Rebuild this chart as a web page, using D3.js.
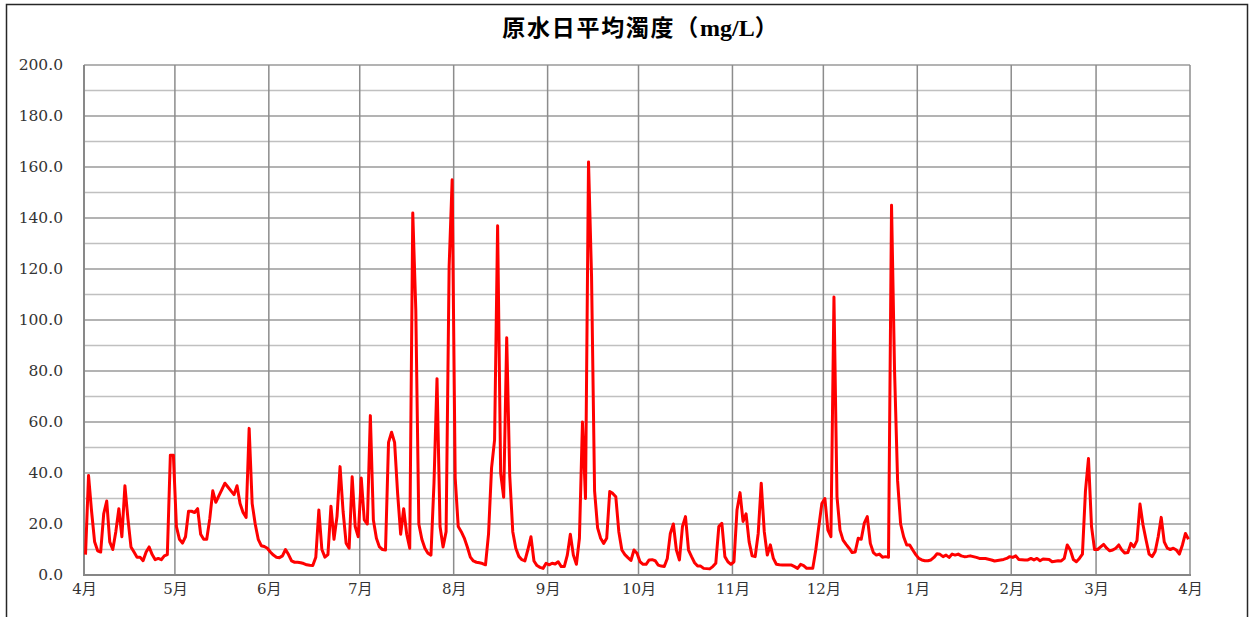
<!DOCTYPE html>
<html>
<head>
<meta charset="utf-8">
<script src="https://cdn.jsdelivr.net/npm/d3@7/dist/d3.min.js"></script>
<style>
  html, body { margin: 0; padding: 0; background: #fff; }
  svg { display: block; }
</style>
</head>
<body>
<svg id="chart" width="1254" height="617"></svg>
<script>
// ---- data ----
const titleMain = "原水日平均濁度";
const titleUnit = "mg/L";
const monthLabels = ["4月","5月","6月","7月","8月","9月","10月","11月","12月","1月","2月","3月","4月"];
const yTicks = [0, 20, 40, 60, 80, 100, 120, 140, 160, 180, 200];
const yMinorTicks = [10, 30, 50, 70, 90, 110, 130, 150, 170, 190];
const startYear = 2022; // fiscal year starting April 1

const aprVals = [8,39,25,13,9.5,9,24,29,13,10,17,26,15,35,22,11,9,7,7,5.6,9,11,8,6,6.5,6,7.5,8,47,47];
const mayVals = [19,14,12.5,15,25,25,24.5,26,16,14,14,22,33,28.5,31,33.5,36,34.5,33,31.5,35,28,24.5,22.6,57.5,28,20,14,11.5,11.2,10.5];
const junVals = [9,7.8,7,6.8,7.5,10,8,5.5,5,5,4.8,4.5,4,3.8,3.7,7,25.5,10,7,8,27,14,23,42.5,25,12.5,10.5,38.5,19,15];
const julVals = [38,21.6,20,62.5,21.6,14.4,11,10,9.8,52,56,52,32,16,26,16,10.5,142,104,20,14,10.5,8.5,7.8,36,77,19,11,17,121,155];
const augVals = [38,19,17,14.5,11,7,5.5,5,4.8,4.5,4,16,42,53,137,40,30.5,93,39,17,10.5,7.3,6,5.5,10,15,5.5,3.7,3,2.6,4.6];
const sepVals = [4,4.6,4.3,5.2,3.3,3.3,7.8,16,7.8,4.2,14.4,60,30,162,117,33,18.5,14.4,12.4,14.4,32.7,32,30.7,17,9.8,8,6.8,5.7,9.8,8.5];
const octVals = [5.2,4.2,4.2,5.9,6,5.6,3.9,3.5,3.3,6.5,16.3,20,9.8,5.9,19,22.9,9.8,7.2,4.8,3.5,3.5,2.6,2.5,2.4,3.3,4.6,19,20.3,7.2,5.2,4.2];
const novVals = [5.2,25.5,32.3,21,24,13,7.5,7.2,16.3,36,17,7.8,11.8,6.5,4.2,4,3.9,3.9,3.9,3.9,3.3,2.6,4.2,3.7,2.6,2.6,2.6,9.8,19,28];
const decVals = [30,17.6,15,109,30.7,17.6,13.7,12,10.5,8.8,9,14.4,14,20.3,22.9,12.4,8.8,7.8,8.2,7,7.2,7,145,80,37,20,15,11.8,11.8,9.8,8];
const janVals = [6.5,5.9,5.6,5.6,5.9,6.9,8.3,8.1,7.2,7.8,6.9,8.2,7.8,8.2,7.5,7.2,7.3,7.5,7.2,6.9,6.5,6.5,6.5,6.2,5.9,5.5,5.7,5.9,6.1,6.5,7.2];
const febVals = [6.9,7.5,6.1,6,5.9,5.9,6.5,5.9,6.5,5.6,6.3,6.2,6.1,5.2,5.4,5.6,5.5,6.5,11.8,9.8,6.1,5.2,6.5,8.2,33,45.7,19,10];
const marVals = [10,11,12,10.5,9.5,9.8,10.5,11.8,9.8,8.6,8.8,12.4,11,13.5,27.8,19.6,13.7,8.2,7.2,9.2,15,22.6,13,10.5,10,10.5,9.8,8.2,11.8,16.3,14];

const monthly = [aprVals, mayVals, junVals, julVals, augVals, sepVals, octVals, novVals, decVals, janVals, febVals, marVals];

// ---- build daily series (each day's mean plotted at mid-day) ----
const startDate = new Date(Date.UTC(startYear, 3, 1));
const endDate = new Date(Date.UTC(startYear + 1, 3, 1));
const series = [];
monthly.forEach((vals, m) => {
  const mStart = d3.utcMonth.offset(startDate, m);
  vals.forEach((v, i) => series.push({ date: d3.utcHour.offset(d3.utcDay.offset(mStart, i), 12), value: v }));
});
const monthStarts = d3.utcMonth.range(startDate, d3.utcDay.offset(endDate, 1));

// ---- layout ----
const svg = d3.select("#chart");
const pLeft = 84, pRight = 1190, pTop = 65, pBottom = 575;

const x = d3.scaleUtc().domain([startDate, endDate]).range([pLeft, pRight]);
const y = d3.scaleLinear().domain([0, 200]).range([pBottom, pTop]);

// outer frame
svg.append("rect")
  .attr("x", 6.5).attr("y", 4.5)
  .attr("width", 1241).attr("height", 640)
  .attr("fill", "none").attr("stroke", "#262626").attr("stroke-width", 1.5);

// title
const title = svg.append("text")
  .attr("x", 640).attr("y", 36)
  .attr("text-anchor", "middle")
  .attr("font-weight", "bold")
  .attr("fill", "#000");
title.append("tspan")
  .attr("font-family", "'Noto Sans CJK JP', sans-serif")
  .attr("font-size", 23)
  .attr("letter-spacing", 1.7)
  .text(titleMain + "（");
title.append("tspan")
  .attr("font-family", "'Liberation Serif', serif")
  .attr("font-size", 24)
  .text(titleUnit);
title.append("tspan")
  .attr("font-family", "'Noto Sans CJK JP', sans-serif")
  .attr("font-size", 23)
  .text("）");

// minor horizontal grid
svg.append("g").selectAll("line").data(yMinorTicks).join("line")
  .attr("x1", pLeft).attr("x2", pRight)
  .attr("y1", d => y(d)).attr("y2", d => y(d))
  .attr("stroke", "#c0c0c0").attr("stroke-width", 1.3);

// major horizontal grid
svg.append("g").selectAll("line").data(yTicks.filter(d => d > 0)).join("line")
  .attr("x1", pLeft).attr("x2", pRight)
  .attr("y1", d => y(d)).attr("y2", d => y(d))
  .attr("stroke", "#9a9a9a").attr("stroke-width", 1.3);

// vertical month grid
svg.append("g").selectAll("line").data(monthStarts).join("line")
  .attr("x1", d => x(d)).attr("x2", d => x(d))
  .attr("y1", pTop).attr("y2", pBottom)
  .attr("stroke", "#8c8c8c").attr("stroke-width", 1.5);

// axes lines
svg.append("line")
  .attr("x1", pLeft).attr("x2", pLeft).attr("y1", pTop).attr("y2", pBottom)
  .attr("stroke", "#868686").attr("stroke-width", 1.8);
svg.append("line")
  .attr("x1", pLeft - 1).attr("x2", pRight + 1).attr("y1", pBottom).attr("y2", pBottom)
  .attr("stroke", "#868686").attr("stroke-width", 1.8);

// y axis labels
const yAxis = d3.axisLeft(y).tickValues(yTicks).tickFormat(d3.format(".1f")).tickSize(0).tickPadding(21);
const gy = svg.append("g").attr("transform", `translate(${pLeft},0)`).call(yAxis);
gy.select(".domain").remove();
gy.selectAll("text")
  .attr("font-family", "'DejaVu Serif', serif")
  .attr("font-size", 15.5)
  .attr("fill", "#333");

// x axis labels
const xAxis = d3.axisBottom(x).tickValues(monthStarts).tickFormat((d, i) => monthLabels[i]).tickSize(0).tickPadding(8);
const gx = svg.append("g").attr("transform", `translate(0,${pBottom})`).call(xAxis);
gx.select(".domain").remove();
gx.selectAll("text")
  .attr("font-family", "'DejaVu Serif', 'Noto Sans CJK JP', serif")
  .attr("font-size", 15)
  .attr("fill", "#333");

// data line
const line = d3.line().x(d => x(d.date)).y(d => y(d.value));
svg.append("path")
  .datum(series)
  .attr("d", line)
  .attr("fill", "none")
  .attr("stroke", "#ff0000")
  .attr("stroke-width", 3)
  .attr("stroke-linejoin", "round");
</script>
</body>
</html>
